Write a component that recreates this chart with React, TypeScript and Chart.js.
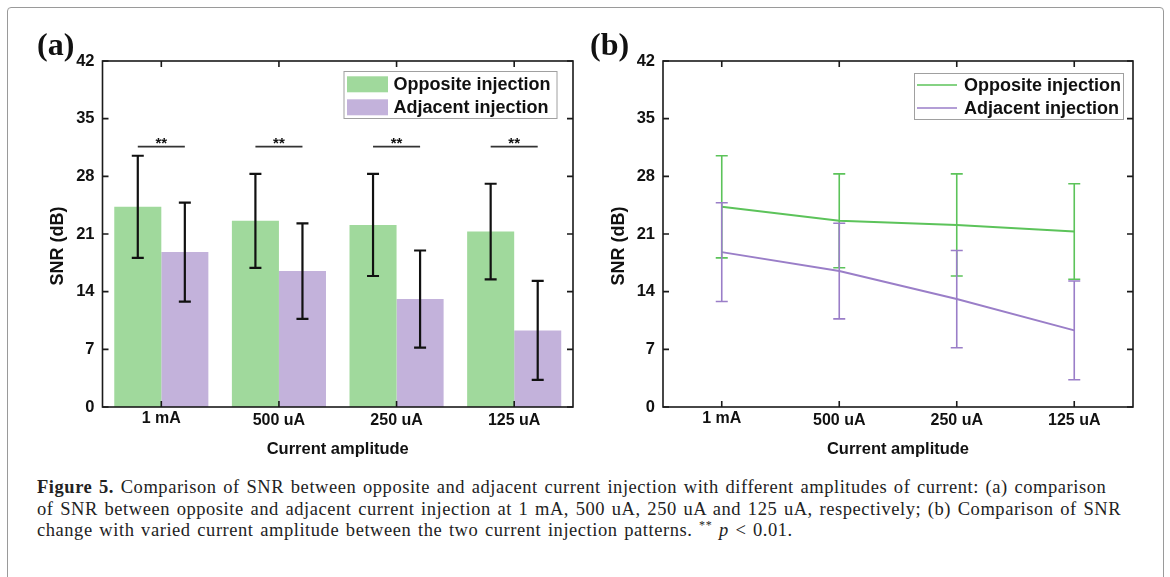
import React, { useEffect, useRef } from "react";
import { Chart, registerables } from "chart.js";

Chart.register(...registerables);

// ---------------- data ----------------
const categories = ["1 mA", "500 uA", "250 uA", "125 uA"];
const seriesNames = ["Opposite injection", "Adjacent injection"];
const oppositeMean = [24.3, 22.6, 22.1, 21.3];
const oppositeSD = [6.2, 5.7, 6.2, 5.8];
const adjacentMean = [18.8, 16.5, 13.1, 9.3];
const adjacentSD = [6.0, 5.8, 5.9, 6.0];
const significance = ["**", "**", "**", "**"];
const significanceLevel = 31.6;
const yTicks = [0, 7, 14, 21, 28, 35, 42];
const xTitle = "Current amplitude";
const yTitle = "SNR (dB)";

// ---------------- style ----------------
const SANS = '"Liberation Sans", Arial, sans-serif';
const SERIF = '"Liberation Serif", "Times New Roman", serif';
const barColors = ["#a0d99c", "#c3b2db"];
const lineColors = ["#5cc35a", "#9a7ec8"];
const sdArrays = [oppositeSD, adjacentSD];

type PanelKind = "bar" | "line";

function makePlugins(kind: PanelKind) {
  const errorBars = {
    id: "errorBars",
    afterDatasetsDraw(chart: any) {
      const { ctx } = chart;
      const y = chart.scales.y;
      chart.data.datasets.forEach((ds: any, di: number) => {
        const meta = chart.getDatasetMeta(di);
        const sd = sdArrays[di];
        meta.data.forEach((el: any, i: number) => {
          const v = ds.data[i];
          const top = y.getPixelForValue(v + sd[i]);
          const bot = y.getPixelForValue(v - sd[i]);
          const x = el.x;
          const cap = 6;
          ctx.save();
          ctx.strokeStyle = kind === "bar" ? "#111" : lineColors[di];
          ctx.lineWidth = kind === "bar" ? 2.2 : 1.6;
          ctx.beginPath();
          ctx.moveTo(x, top);
          ctx.lineTo(x, bot);
          ctx.moveTo(x - cap, top);
          ctx.lineTo(x + cap, top);
          ctx.moveTo(x - cap, bot);
          ctx.lineTo(x + cap, bot);
          ctx.stroke();
          ctx.restore();
        });
      });
      if (kind === "bar") {
        const m0 = chart.getDatasetMeta(0);
        const m1 = chart.getDatasetMeta(1);
        const py = y.getPixelForValue(significanceLevel);
        significance.forEach((s, i) => {
          const x1 = m0.data[i].x;
          const x2 = m1.data[i].x;
          ctx.save();
          ctx.strokeStyle = "#333";
          ctx.lineWidth = 1.8;
          ctx.beginPath();
          ctx.moveTo(x1, py);
          ctx.lineTo(x2, py);
          ctx.stroke();
          ctx.fillStyle = "#111";
          ctx.font = `bold 15px ${SANS}`;
          ctx.textAlign = "center";
          ctx.textBaseline = "alphabetic";
          ctx.fillText(s, (x1 + x2) / 2, py + 1.5);
          ctx.restore();
        });
      }
    },
  };

  const frame = {
    id: "frame",
    afterDraw(chart: any) {
      const { ctx, chartArea: a } = chart;
      const x = chart.scales.x;
      const y = chart.scales.y;
      const L = 6;
      ctx.save();
      ctx.strokeStyle = "#1a1a1a";
      ctx.lineWidth = 1.6;
      ctx.strokeRect(a.left, a.top, a.right - a.left, a.bottom - a.top);
      ctx.beginPath();
      x.ticks.forEach((_: any, i: number) => {
        const px = x.getPixelForTick(i);
        ctx.moveTo(px, a.bottom);
        ctx.lineTo(px, a.bottom - L);
        ctx.moveTo(px, a.top);
        ctx.lineTo(px, a.top + L);
      });
      y.ticks.forEach((t: any) => {
        const py = y.getPixelForValue(t.value);
        ctx.moveTo(a.left, py);
        ctx.lineTo(a.left + L, py);
        ctx.moveTo(a.right, py);
        ctx.lineTo(a.right - L, py);
      });
      ctx.stroke();

      // y axis title
      ctx.save();
      ctx.translate(a.left - 44, (a.top + a.bottom) / 2 + 12);
      ctx.rotate(-Math.PI / 2);
      ctx.fillStyle = "#111";
      ctx.font = `bold 18px ${SANS}`;
      ctx.textAlign = "center";
      ctx.textBaseline = "middle";
      ctx.fillText(yTitle, 0, 0);
      ctx.restore();

      // legend
      const isBar = kind === "bar";
      const bx = a.right - (isBar ? 229.5 : 219);
      const by = a.top + (isBar ? 10 : 12);
      const bw = isBar ? 213 : 209;
      const bh = isBar ? 47 : 46;
      ctx.fillStyle = "#fff";
      ctx.fillRect(bx, by, bw, bh);
      ctx.strokeStyle = "#a0a0a0";
      ctx.lineWidth = 1;
      ctx.strokeRect(bx + 0.5, by + 0.5, bw, bh);
      const rows = [a.top + (isBar ? 23.3 : 24), a.top + (isBar ? 46.3 : 47)];
      chart.data.datasets.forEach((ds: any, di: number) => {
        const ry = rows[di];
        if (isBar) {
          ctx.fillStyle = barColors[di];
          ctx.fillRect(bx + 3.5, ry - 8, 41, 16);
        } else {
          ctx.strokeStyle = lineColors[di];
          ctx.lineWidth = 1.6;
          ctx.beginPath();
          ctx.moveTo(bx + 3, ry);
          ctx.lineTo(bx + 43, ry);
          ctx.stroke();
        }
        ctx.fillStyle = "#111";
        ctx.font = `bold 18px ${SANS}`;
        ctx.textAlign = "left";
        ctx.textBaseline = "middle";
        ctx.fillText(ds.label, bx + 50, ry + 1);
      });
      ctx.restore();
    },
  };
  return [errorBars, frame];
}

function buildOptions(kind: PanelKind, padLeft: number, padRight: number) {
  return {
    responsive: false,
    animation: false,
    layout: { padding: { left: padLeft, right: padRight, top: 61, bottom: 3 } },
    plugins: { legend: { display: false }, tooltip: { enabled: false } },
    scales: {
      x: {
        type: "category",
        offset: true,
        grid: { display: false, drawTicks: false },
        border: { display: false },
        ticks: {
          padding: 2.5,
          color: "#111",
          font: (c: any) => ({
            family: SANS,
            size: 16,
            weight: "bold",
            lineHeight: c.index === 0 ? 1.125 : 1.4375,
          }),
        },
        title: {
          display: true,
          text: xTitle,
          color: "#111",
          font: { family: SANS, size: 16.5, weight: "bold", lineHeight: 1.2 },
          padding: { top: 0, bottom: 7.5 },
        },
        afterFit: (s: any) => {
          s.height = 60;
        },
      },
      y: {
        type: "linear",
        min: 0,
        max: 42,
        grid: { display: false, drawTicks: false },
        border: { display: false },
        ticks: {
          padding: 8,
          color: "#111",
          font: { family: SANS, size: 16.5, weight: "bold" },
        },
        afterBuildTicks: (s: any) => {
          s.ticks = yTicks.map((v) => ({ value: v }));
        },
        afterFit: (s: any) => {
          s.width = 60;
        },
      },
    },
  } as any;
}

function Panel(props: { kind: PanelKind; left: number; width: number; padLeft: number; padRight: number }) {
  const ref = useRef<HTMLCanvasElement | null>(null);
  const { kind, left, width, padLeft, padRight } = props;
  useEffect(() => {
    if (!ref.current) return;
    const isBar = kind === "bar";
    const chart = new Chart(ref.current, {
      type: isBar ? "bar" : "line",
      data: {
        labels: categories,
        datasets: [
          {
            label: seriesNames[0],
            data: oppositeMean,
            backgroundColor: isBar ? barColors[0] : lineColors[0],
            borderColor: isBar ? barColors[0] : lineColors[0],
            borderWidth: isBar ? 0 : 2,
            pointRadius: 0,
            categoryPercentage: 0.8,
            barPercentage: 1.0,
          } as any,
          {
            label: seriesNames[1],
            data: adjacentMean,
            backgroundColor: isBar ? barColors[1] : lineColors[1],
            borderColor: isBar ? barColors[1] : lineColors[1],
            borderWidth: isBar ? 0 : 2,
            pointRadius: 0,
            categoryPercentage: 0.8,
            barPercentage: 1.0,
          } as any,
        ],
      },
      options: buildOptions(kind, padLeft, padRight),
      plugins: makePlugins(kind) as any,
    });
    return () => chart.destroy();
  }, [kind, padLeft, padRight]);
  return (
    <canvas
      ref={ref}
      width={width}
      height={470}
      style={{ position: "absolute", left, top: 0, width, height: 470 }}
    />
  );
}

export default function App() {
  return (
    <div
      style={{
        position: "fixed",
        left: 0,
        top: 0,
        width: 1170,
        height: 577,
        overflow: "hidden",
        background: "#fff",
      }}
    >
      <div
        style={{
          position: "absolute",
          left: 7,
          top: 7,
          width: 1155,
          height: 620,
          border: "1.5px solid #9a9a9a",
          borderRadius: 4,
        }}
      />
      <Panel kind="bar" left={0} width={590} padLeft={42.5} padRight={17} />
      <Panel kind="line" left={590} width={580} padLeft={13} padRight={37} />
      <div
        style={{
          position: "absolute",
          left: 37,
          top: 28,
          fontFamily: SERIF,
          fontWeight: "bold",
          fontSize: 32,
          lineHeight: "32px",
          color: "#111",
        }}
      >
        (a)
      </div>
      <div
        style={{
          position: "absolute",
          left: 590,
          top: 28,
          fontFamily: SERIF,
          fontWeight: "bold",
          fontSize: 32,
          lineHeight: "32px",
          color: "#111",
        }}
      >
        (b)
      </div>
      <div
        style={{
          position: "absolute",
          left: 37,
          top: 477,
          fontFamily: SERIF,
          fontSize: 18.5,
          lineHeight: "21.5px",
          letterSpacing: "0.55px",
          wordSpacing: "1.5px",
          color: "#222",
          whiteSpace: "nowrap",
        }}
      >
        <b>Figure 5.</b> Comparison of SNR between opposite and adjacent current injection with different amplitudes of current: (a) comparison
        <br />
        of SNR between opposite and adjacent current injection at 1 mA, 500 uA, 250 uA and 125 uA, respectively; (b) Comparison of SNR
        <br />
        change with varied current amplitude between the two current injection patterns.{" "}
        <sup style={{ fontSize: 12, lineHeight: 0 }}>**</sup> <i>p</i> &lt; 0.01.
      </div>
    </div>
  );
}
